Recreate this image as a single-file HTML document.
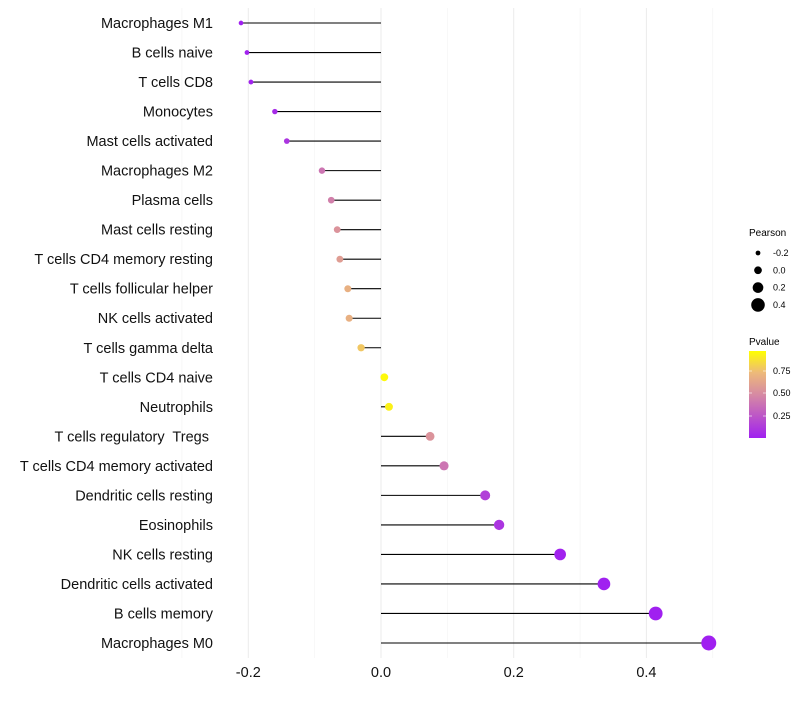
<!DOCTYPE html>
<html><head><meta charset="utf-8"><style>
body{margin:0;background:#fff;font-family:"Liberation Sans",sans-serif}
text{white-space:pre}
</style></head><body>
<svg id="chart" width="800" height="700" xmlns="http://www.w3.org/2000/svg">
<defs><linearGradient id="pg" x1="0" y1="1" x2="0" y2="0">
<stop offset="0" stop-color="#A020F0"/><stop offset="0.25" stop-color="#BC55C8"/><stop offset="0.5" stop-color="#D68AA3"/><stop offset="0.75" stop-color="#EDB97A"/><stop offset="1" stop-color="#FFFF00"/></linearGradient></defs>
<g id="grid"></g><g id="marks"></g><g id="labels"></g>
<g font-size="9">
<text x="749" y="236" font-size="10">Pearson</text>
</g>
<g id="sizeleg"></g>
<g>
<text x="749" y="345" font-size="10">Pvalue</text>
<rect x="749" y="351" width="17" height="87" fill="url(#pg)"/>
<line x1="749" x2="752" y1="371" y2="371" stroke="#fff" opacity=".6"/><line x1="763" x2="766" y1="371" y2="371" stroke="#fff" opacity=".6"/>
<line x1="749" x2="752" y1="393" y2="393" stroke="#fff" opacity=".6"/><line x1="763" x2="766" y1="393" y2="393" stroke="#fff" opacity=".6"/>
<line x1="749" x2="752" y1="416" y2="416" stroke="#fff" opacity=".6"/><line x1="763" x2="766" y1="416" y2="416" stroke="#fff" opacity=".6"/>
<text x="773" y="374" font-size="9">0.75</text><text x="773" y="396" font-size="9">0.50</text><text x="773" y="419" font-size="9">0.25</text>
</g>
</svg>
<script>
const categories=["Macrophages M1","B cells naive","T cells CD8","Monocytes","Mast cells activated","Macrophages M2","Plasma cells","Mast cells resting","T cells CD4 memory resting","T cells follicular helper","NK cells activated","T cells gamma delta","T cells CD4 naive","Neutrophils","T cells regulatory  Tregs ","T cells CD4 memory activated","Dendritic cells resting","Eosinophils","NK cells resting","Dendritic cells activated","B cells memory","Macrophages M0"];
const pearson=[-0.211,-0.202,-0.196,-0.160,-0.142,-0.089,-0.075,-0.066,-0.062,-0.050,-0.048,-0.030,0.005,0.012,0.074,0.095,0.157,0.178,0.270,0.336,0.414,0.494];
const pvalue=[0.0,0.01,0.01,0.05,0.1,0.4,0.45,0.55,0.6,0.7,0.7,0.8,0.98,0.95,0.55,0.4,0.15,0.1,0.01,0.003,0.001,0.0];
const xTicks=[-0.2,0,0.2,0.4];
const xTickLabels=["-0.2","0.0","0.2","0.4"];
const sizeLegendVals=[-0.2,0,0.2,0.4];
const NS="http://www.w3.org/2000/svg";
const x=v=>381+v*663.5;
const y=i=>23+i*(620/21);
const r=v=>2.4+(v+0.2)/0.6*4.4;
const stops=[[0,[160,32,240]],[0.25,[188,85,200]],[0.5,[214,138,163]],[0.75,[237,185,122]],[1,[255,255,0]]];
function col(p){for(let k=1;k<stops.length;k++){if(p<=stops[k][0]){const a=stops[k-1],b=stops[k],t=(p-a[0])/(b[0]-a[0]);return "rgb("+a[1].map((c,j)=>Math.round(c+(b[1][j]-c)*t)).join(",")+")";}}return "rgb(255,255,0)";}
function mk(tag,at,parent){const e=document.createElementNS(NS,tag);for(const k in at)e.setAttribute(k,at[k]);document.getElementById(parent).appendChild(e);return e;}
[-0.3,-0.1,0.1,0.3,0.5].forEach(v=>{const l=mk("line",{x1:x(v),x2:x(v),y1:8,y2:658,stroke:"#f3f3f3","stroke-width":0.6},"grid");

});
xTicks.forEach((v,i)=>{const l=mk("line",{x1:x(v),x2:x(v),y1:8,y2:658,stroke:"#ebebeb","stroke-width":1},"grid");


const t=mk("text",{x:x(v),y:677,"text-anchor":"middle","font-size":"14.5",fill:"#111"},"labels");t.textContent=xTickLabels[i];

});
categories.forEach((c,i)=>{
const l=mk("line",{x1:x(0),x2:x(pearson[i]),y1:y(i),y2:y(i),stroke:"#000","stroke-width":1.1},"marks");


const d=mk("circle",{cx:x(pearson[i]),cy:y(i),r:r(pearson[i]),fill:col(pvalue[i])},"marks");


const t=mk("text",{x:213,y:y(i)+5,"text-anchor":"end","font-size":"14.5",fill:"#111"},"labels");t.textContent=c;

});
sizeLegendVals.forEach((v,i)=>{const yy=253+i*17.3;
const d=mk("circle",{cx:758,cy:yy,r:r(v),fill:"#000"},"sizeleg");


const t=mk("text",{x:773,y:yy+3,"font-size":"9"},"sizeleg");t.textContent=xTickLabels[i];

});
</script>
</body></html>
